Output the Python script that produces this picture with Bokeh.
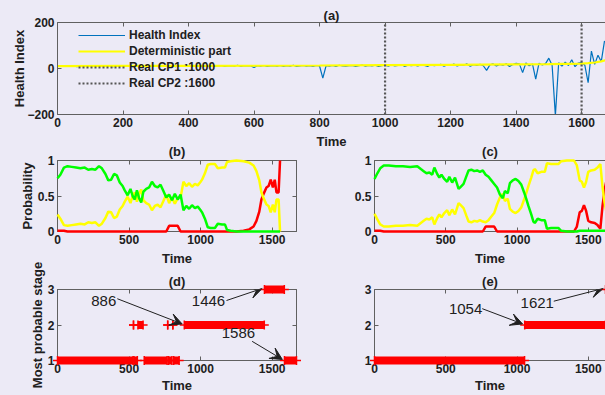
from bokeh.plotting import figure
from bokeh.layouts import column, row
from bokeh.models import (Range1d, LinearAxis, FixedTicker, Legend, LegendItem,
                          Arrow, VeeHead, Label)
from bokeh.embed import file_html
from bokeh.resources import INLINE

# ---------------------------------------------------------------- data
# (a) health index sampled every 10 time units
hi_time = list(range(0, 1680, 10))
hi_value = [
    10, 12, 9, 11, 13, 10, 8, 12, 11, 9,
    12, 10, 13, 9, 11, 12, 10, 8, 12, 11,
    9, 13, 11, 10, 12, 9, 11, 13, 10, 12,
    11, 9, 12, 10, 13, 11, 8, 12, 10, 14,
    9, 11, 12, 10, 13, 9, 12, 11, 10, 12,
    13, 9, 11, 12, 10, 14, 9, 12, 11, 11,
    4, 12, 10, 13, 9, 11, 12, 10, 13, 9,
    12, 10, 14, 9, 11, 13, 10, 12, 9, 13,
    11, -42, 12, 10, 13, 9, 14, 11, 10, 12,
    13, 9, 12, 15, 10, 13, 11, 14, 9, 12,
    14, 10, 16, 11, 13, 17, 9, 14, 12, 15,
    11, 16, 13, 9, 17, 12, 14, 18, 10, 15,
    13, 19, 11, 16, 14, 20, 10, 17, 13, 18,
    12, -8, 16, 20, 11, 18, 14, 21, 9, 17,
    22, 20, -18, 24, 12, 20, -46, 23, 15, 21,
    45, 14, -205, 25, 10, 28, 13, 38, 8, 24,
    26, 14, -62, 76, 18, 58, 30, 120,
]
det_time = [0, 200, 400, 600, 800, 1000, 1200, 1400, 1500, 1600, 1620, 1640, 1660, 1680]
det_value = [10, 11, 11.5, 12, 13, 15, 16, 18, 19, 21, 23, 26, 31, 38]
cp_time = [1000, 1600]

# (b) stage probabilities
b_time = [0, 20, 45, 70, 100, 130, 160, 190, 215, 240,
          265, 290, 310, 335, 355, 375, 395, 415, 435, 455,
          470, 490, 510, 525, 540, 555, 570, 585, 600, 620,
          640, 660, 680, 700, 720, 740, 760, 780, 800, 820,
          840, 860, 880, 900, 920, 940, 960, 980, 1000, 1010,
          1030, 1050, 1070, 1100, 1120, 1150, 1170, 1185, 1210, 1250,
          1300, 1340, 1370, 1390, 1410, 1425, 1440, 1460, 1475, 1490,
          1505, 1518, 1530, 1545, 1555]
b_green = [0.75, 0.80, 0.90, 0.92, 0.91, 0.90, 0.89, 0.90, 0.87, 0.88,
           0.87, 0.92, 0.89, 0.81, 0.72, 0.73, 0.81, 0.79, 0.69, 0.64,
           0.58, 0.51, 0.60, 0.50, 0.45, 0.58, 0.47, 0.41, 0.56, 0.60,
           0.62, 0.70, 0.64, 0.62, 0.66, 0.57, 0.48, 0.52, 0.44, 0.53,
           0.45, 0.52, 0.30, 0.36, 0.32, 0.37, 0.33, 0.35, 0.30, 0.27,
           0.18, 0.06, 0.05, 0.05, 0.11, 0.10, 0.10, 0.02, 0.01, 0.00,
           0.00, 0.00, 0.00, 0.00, 0.00, 0.00, 0.00, 0.00, 0.00, 0.00,
           0.00, 0.00, 0.00, 0.00, 0.00]
b_yellow = [0.24, 0.18, 0.09, 0.08, 0.09, 0.10, 0.11, 0.10, 0.13, 0.12,
            0.13, 0.08, 0.11, 0.19, 0.28, 0.27, 0.19, 0.21, 0.31, 0.36,
            0.42, 0.49, 0.40, 0.50, 0.55, 0.42, 0.53, 0.59, 0.44, 0.40,
            0.38, 0.30, 0.36, 0.38, 0.34, 0.43, 0.52, 0.40, 0.48, 0.39,
            0.47, 0.48, 0.70, 0.64, 0.68, 0.63, 0.67, 0.65, 0.70, 0.73,
            0.82, 0.94, 0.95, 0.95, 0.89, 0.90, 0.90, 0.98, 0.99, 1.00,
            0.99, 0.97, 0.93, 0.85, 0.72, 0.55, 0.47, 0.38, 0.36, 0.27,
            0.38, 0.27, 0.45, 0.45, 0.00]
b_red = [0.01, 0.01, 0.01, 0.00, 0.00, 0.00, 0.00, 0.00, 0.00, 0.00,
         0.00, 0.00, 0.00, 0.00, 0.00, 0.00, 0.00, 0.00, 0.00, 0.00,
         0.00, 0.00, 0.00, 0.00, 0.00, 0.00, 0.00, 0.00, 0.00, 0.00,
         0.00, 0.00, 0.00, 0.00, 0.00, 0.00, 0.00, 0.08, 0.08, 0.08,
         0.08, 0.00, 0.00, 0.00, 0.00, 0.00, 0.00, 0.00, 0.00, 0.00,
         0.00, 0.00, 0.00, 0.00, 0.00, 0.00, 0.00, 0.00, 0.00, 0.00,
         0.01, 0.03, 0.07, 0.15, 0.28, 0.45, 0.53, 0.62, 0.64, 0.73,
         0.62, 0.73, 0.55, 0.55, 1.00]

# (c) stage probabilities
c_time = [0, 20, 40, 65, 100, 150, 200, 250, 300, 325,
          345, 365, 385, 405, 420, 440, 455, 470, 490, 510,
          525, 545, 565, 590, 605, 625, 645, 660, 680, 700,
          720, 740, 760, 780, 800, 820, 840, 860, 880, 900,
          915, 935, 950, 970, 990, 1010, 1030, 1050, 1065, 1080,
          1100, 1115, 1125, 1145, 1170, 1195, 1210, 1240, 1290, 1310,
          1350, 1400, 1420, 1440, 1455, 1470, 1485, 1500, 1520, 1545,
          1565, 1585, 1600, 1615, 1630, 1645]
c_green = [0.74, 0.82, 0.89, 0.93, 0.93, 0.92, 0.92, 0.91, 0.92, 0.88,
           0.85, 0.82, 0.83, 0.80, 0.90, 0.81, 0.76, 0.80, 0.74, 0.70,
           0.77, 0.69, 0.76, 0.60, 0.63, 0.67, 0.78, 0.86, 0.87, 0.85,
           0.86, 0.84, 0.86, 0.80, 0.77, 0.72, 0.67, 0.62, 0.52, 0.47,
           0.57, 0.54, 0.68, 0.72, 0.74, 0.71, 0.66, 0.55, 0.46, 0.36,
           0.24, 0.14, 0.12, 0.18, 0.16, 0.16, 0.04, 0.05, 0.05, 0.01,
           0.00, 0.00, 0.00, 0.01, 0.01, 0.01, 0.01, 0.01, 0.01, 0.01,
           0.01, 0.01, 0.01, 0.01, 0.01, 0.01]
c_yellow = [0.25, 0.17, 0.10, 0.07, 0.07, 0.08, 0.08, 0.09, 0.08, 0.12,
            0.15, 0.18, 0.17, 0.20, 0.10, 0.19, 0.24, 0.20, 0.26, 0.30,
            0.23, 0.31, 0.24, 0.40, 0.37, 0.33, 0.22, 0.14, 0.13, 0.15,
            0.14, 0.16, 0.14, 0.13, 0.16, 0.21, 0.26, 0.38, 0.48, 0.53,
            0.43, 0.46, 0.32, 0.28, 0.26, 0.29, 0.34, 0.45, 0.54, 0.64,
            0.76, 0.86, 0.88, 0.82, 0.84, 0.84, 0.96, 0.95, 0.95, 0.99,
            1.00, 1.00, 0.93, 0.72, 0.70, 0.62, 0.70, 0.84, 0.86, 0.87,
            0.90, 0.95, 0.63, 0.40, 0.25, 0.15]
c_red = [0.01, 0.01, 0.01, 0.00, 0.00, 0.00, 0.00, 0.00, 0.00, 0.00,
         0.00, 0.00, 0.00, 0.00, 0.00, 0.00, 0.00, 0.00, 0.00, 0.00,
         0.00, 0.00, 0.00, 0.00, 0.00, 0.00, 0.00, 0.00, 0.00, 0.00,
         0.00, 0.00, 0.00, 0.07, 0.07, 0.07, 0.07, 0.00, 0.00, 0.00,
         0.00, 0.00, 0.00, 0.00, 0.00, 0.00, 0.00, 0.00, 0.00, 0.00,
         0.00, 0.00, 0.00, 0.00, 0.00, 0.00, 0.00, 0.00, 0.00, 0.00,
         0.00, 0.00, 0.07, 0.27, 0.29, 0.37, 0.29, 0.15, 0.13, 0.12,
         0.09, 0.04, 0.36, 0.59, 0.74, 0.84]

# (d) / (e) most probable stage, as runs (first time, last time, stage)
d_start = [0, 531, 534, 562, 606, 770, 776, 806, 812, 886, 1446, 1586]
d_end = [528, 531, 558, 598, 766, 770, 800, 806, 850, 1445, 1585, 1670]
d_stage = [1, 2, 1, 2, 1, 2, 1, 2, 1, 2, 3, 1]
d_change = [886, 1446, 1586]
d_change_stage = [2, 3, 1]

e_start = [0, 1054, 1621]
e_end = [1053, 1620, 1670]
e_stage = [1, 2, 3]
e_change = [1054, 1621]
e_change_stage = [2, 3]

# ---------------------------------------------------------------- style
BG = "#ECEAF6"
AX = "#606060"
TXT = "#202020"
FONT = "Liberation Sans"
BLUE = "#0072BD"
YELLOW = "#FFFF00"
GREEN = "#00FF00"
RED = "#FF0000"


def style_axis(ax, ticks, labels=True):
    ax.ticker = FixedTicker(ticks=ticks)
    ax.axis_line_color = AX
    ax.major_tick_line_color = AX
    ax.major_tick_in = 4
    ax.major_tick_out = 0
    ax.minor_tick_line_color = None
    ax.major_label_text_font = FONT
    ax.major_label_text_font_style = "bold"
    if labels:
        ax.major_label_text_color = TXT
        ax.major_label_text_font_size = "12px"
        ax.major_label_standoff = 3
    else:
        # box edge with tick marks only
        ax.major_label_text_color = None
        ax.major_label_text_font_size = "1px"
        ax.major_label_standoff = 0
    ax.axis_label_text_font = FONT
    ax.axis_label_text_font_style = "bold"
    ax.axis_label_text_font_size = "13px"
    ax.axis_label_text_color = TXT
    ax.axis_label_standoff = 2


def panel(w, h, xr, yr, border, title, xticks, yticks, ylabel=None, closed=False,
          ylabel_standoff=0, xlabel_standoff=2, title_standoff=0):
    left, right, top, bottom = border
    p = figure(width=w, height=h, x_range=Range1d(*xr), y_range=Range1d(*yr),
               output_backend="svg", toolbar_location=None,
               x_axis_location=None, y_axis_location=None,
               min_border_left=left, min_border_right=right,
               min_border_top=top, min_border_bottom=bottom,
               background_fill_color=None, border_fill_color=None,
               outline_line_color=AX if closed else None)
    p.grid.visible = False
    below = LinearAxis(axis_label="Time")
    style_axis(below, xticks)
    below.axis_label_standoff = xlabel_standoff
    p.add_layout(below, "below")
    lax = LinearAxis(axis_label=ylabel)
    style_axis(lax, yticks)
    lax.axis_label_standoff = ylabel_standoff
    p.add_layout(lax, "left")
    above = LinearAxis()
    style_axis(above, xticks, labels=False)
    p.add_layout(above, "above")
    if closed:
        rax = LinearAxis()
        style_axis(rax, yticks, labels=False)
        p.add_layout(rax, "right")
    p.title.text = title
    p.title.align = "center"
    p.title.text_font = FONT
    p.title.text_font_style = "bold"
    p.title.text_font_size = "13px"
    p.title.text_color = TXT
    p.title.standoff = title_standoff
    return p


# ---------------------------------------------------------------- (a)
pa = panel(605, 152, (0, 1673), (-200, 200), (57, 0, 22, 38), "(a)",
           list(range(0, 1700, 200)), [-200, 0, 200], ylabel="Health Index",
           ylabel_standoff=-3, xlabel_standoff=4)
r_hi = pa.line(hi_time, hi_value, line_color=BLUE, line_width=1.2)
r_det = pa.line(det_time, det_value, line_color=YELLOW, line_width=2.2)
cp_renderers = []
for cp in cp_time:
    cp_renderers.append(pa.segment(x0=[cp], x1=[cp], y0=[-200], y1=[200],
                                   line_color="#555555", line_width=2.2, line_dash="2 2"))
legend_items = [LegendItem(label="Health Index", renderers=[r_hi]),
                LegendItem(label="Deterministic part", renderers=[r_det])]
for i, (cp, r) in enumerate(zip(cp_time, cp_renderers)):
    legend_items.append(LegendItem(label=f"Real CP{i + 1} :{cp}", renderers=[r]))
legend = Legend(items=legend_items, location=(21, 23), background_fill_alpha=0,
                border_line_color=None, label_text_font=FONT, label_text_font_style="bold",
                label_text_font_size="12px", label_text_color=TXT, glyph_width=47,
                glyph_height=16, label_height=16, label_standoff=4, spacing=0,
                padding=0, margin=0)
pa.add_layout(legend)

# ---------------------------------------------------------------- (b), (c)
prob_ticks = [0, 0.5, 1]
time_ticks = [0, 500, 1000, 1500]
pb = panel(310, 129, (0, 1670), (0, 1), (57, 14, 20, 38), "(b)", time_ticks, prob_ticks,
           ylabel="Probability", closed=True, title_standoff=3, xlabel_standoff=4)
pc = panel(295, 129, (0, 1621), (0, 1), (64, 0, 20, 38), "(c)", time_ticks, prob_ticks,
           title_standoff=3, xlabel_standoff=4)
for p, t, g, y, r in ((pb, b_time, b_green, b_yellow, b_red),
                      (pc, c_time, c_green, c_yellow, c_red)):
    p.line(t, r, line_color=RED, line_width=2.5, level="annotation")
    p.line(t, y, line_color=YELLOW, line_width=2.5, level="annotation")
    p.line(t, g, line_color=GREEN, line_width=2.5, level="annotation")

# ---------------------------------------------------------------- (d), (e)
stage_ticks = [1, 2, 3]
pd_ = panel(310, 143, (0, 1670), (1, 3), (57, 14, 37, 34), "(d)", time_ticks, stage_ticks,
            ylabel="Most probable stage", closed=True, title_standoff=2)
pe = panel(295, 143, (0, 1621), (1, 3), (64, 0, 37, 34), "(e)", time_ticks, stage_ticks,
           title_standoff=2)
for p, s0, s1, st in ((pd_, d_start, d_end, d_stage), (pe, e_start, e_end, e_stage)):
    p.segment(x0=s0, x1=s1, y0=st, y1=st, line_color=RED, line_width=8,
              line_cap="butt", level="annotation")
    p.scatter(x=s0 + s1, y=st + st, marker="cross", size=9, line_color=RED,
              line_width=1.5, level="annotation")


def annotate(p, t, s, text_xy, start_xy):
    p.add_layout(Arrow(end=VeeHead(size=12, fill_color=TXT, line_color=TXT, line_width=1),
                       x_start=start_xy[0], y_start=start_xy[1],
                       x_end=t - 15, y_end=s + 0.03, line_color=TXT, line_width=1))
    p.add_layout(Label(x=text_xy[0], y=text_xy[1], text=str(t), text_align="center",
                       text_baseline="middle", text_font=FONT, text_font_size="15px",
                       text_color=TXT))


d_text = [(323, 2.69), (1055, 2.67), (1264, 1.78)]
d_from = [(418, 2.74), (1181, 2.69), (1360, 1.54)]
for t, s, txy, sxy in zip(d_change, d_change_stage, d_text, d_from):
    annotate(pd_, t, s, txy, sxy)
e_text = [(639, 2.46), (1142, 2.62)]
e_from = [(756, 2.46), (1258, 2.67)]
for t, s, txy, sxy in zip(e_change, e_change_stage, e_text, e_from):
    annotate(pe, t, s, txy, sxy)

layout = column(pa,
                row(pb, pc, margin=(-12, 0, 0, 0)),
                row(pd_, pe, margin=(-17, 0, 0, 0)),
                styles={"background-color": BG})

open("out.html", "w").write(file_html(layout, INLINE))
